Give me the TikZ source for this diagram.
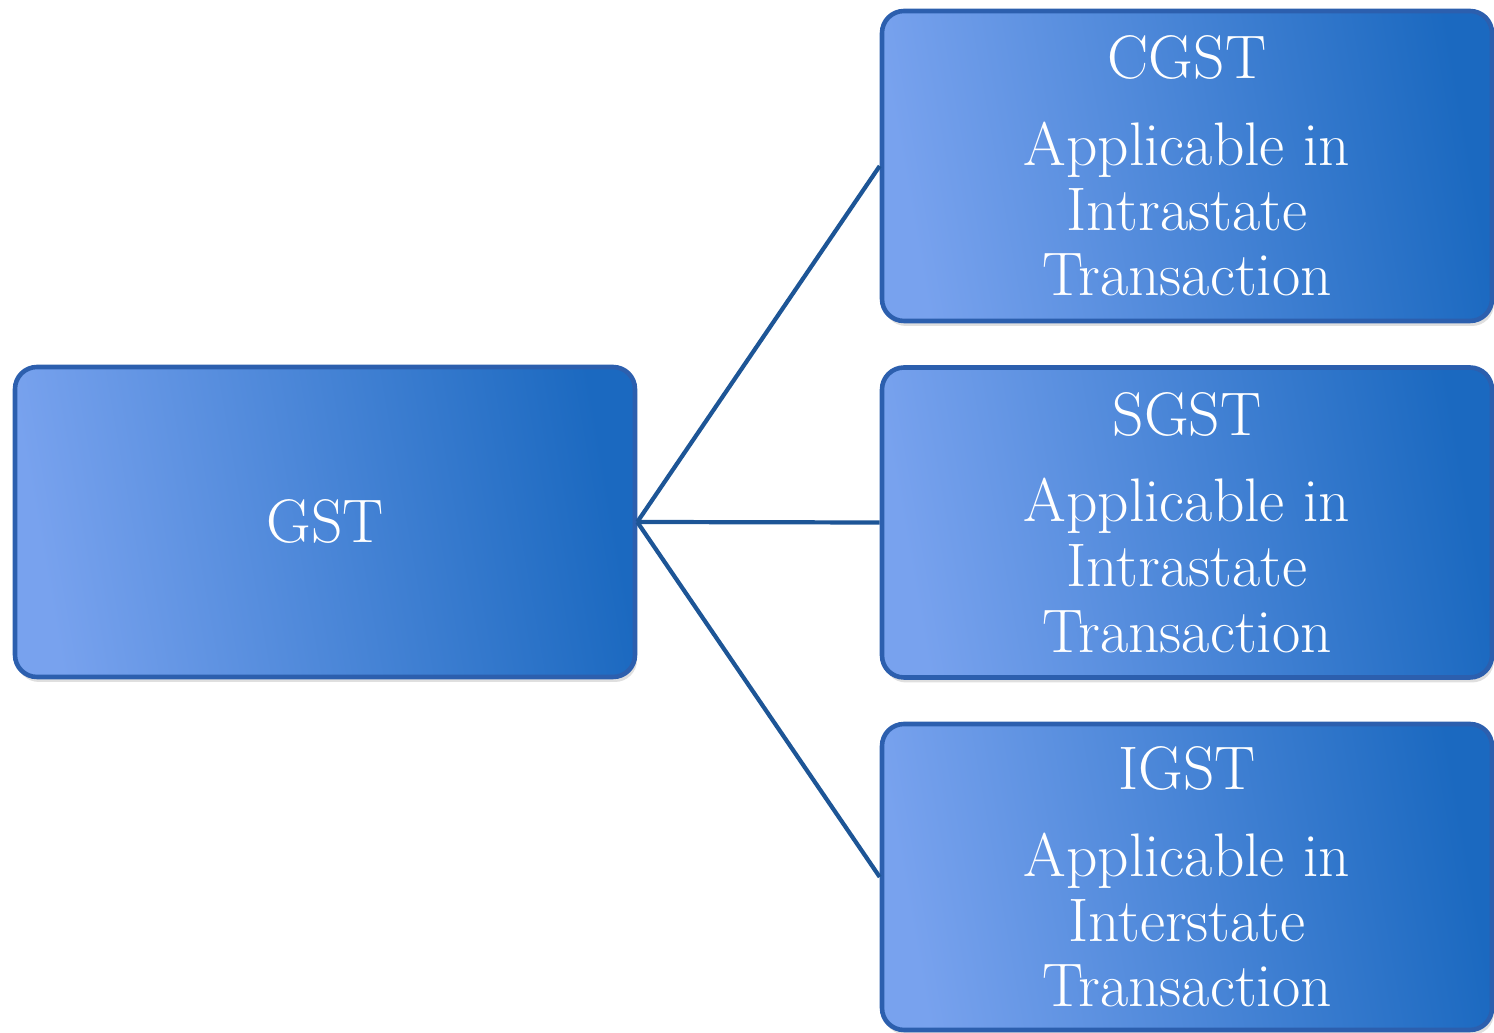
\documentclass[tikz,border=0pt]{standalone}
\usepackage{xcolor}
\usetikzlibrary{shadows}

\definecolor{boxlight}{HTML}{78A2EE}
\definecolor{boxdark}{HTML}{1B69C0}
\definecolor{boxedge}{HTML}{2C5FAE}
\definecolor{linkblue}{HTML}{1D5596}

\tikzset{
    taxbox/.style={rectangle, rounded corners=0.22cm, draw=boxedge, line width=1.3pt,
        left color=boxlight, right color=boxdark, shading angle=100,
        drop shadow={opacity=0.25, shadow xshift=0.02cm, shadow yshift=-0.05cm},
        text=white, align=center, inner sep=0pt,
        font=\fontsize{17.5}{18.6}\selectfont},
    link/.style={draw=linkblue, line width=1.2pt}
}

\begin{document}
\begin{tikzpicture}
        \useasboundingbox (0,0) rectangle (14.94,10.33);

        \node[taxbox, minimum width=6.2cm, minimum height=3.1cm] (gst) at (3.25,5.11) {GST};

        \node[taxbox, minimum width=6.1cm, minimum height=3.1cm] (cgst) at (11.87,8.67)
            {CGST\\[6pt] Applicable in\\ Intrastate\\ Transaction};
        \node[taxbox, minimum width=6.1cm, minimum height=3.1cm] (sgst) at (11.87,5.105)
            {SGST\\[6pt] Applicable in\\ Intrastate\\ Transaction};
        \node[taxbox, minimum width=6.1cm, minimum height=3.06cm] (igst) at (11.87,1.56)
            {IGST\\[6pt] Applicable in\\ Interstate\\ Transaction};

        \draw[link] (gst.east) -- (cgst.west);
        \draw[link] (gst.east) -- (sgst.west);
        \draw[link] (gst.east) -- (igst.west);
\end{tikzpicture}
\end{document}
